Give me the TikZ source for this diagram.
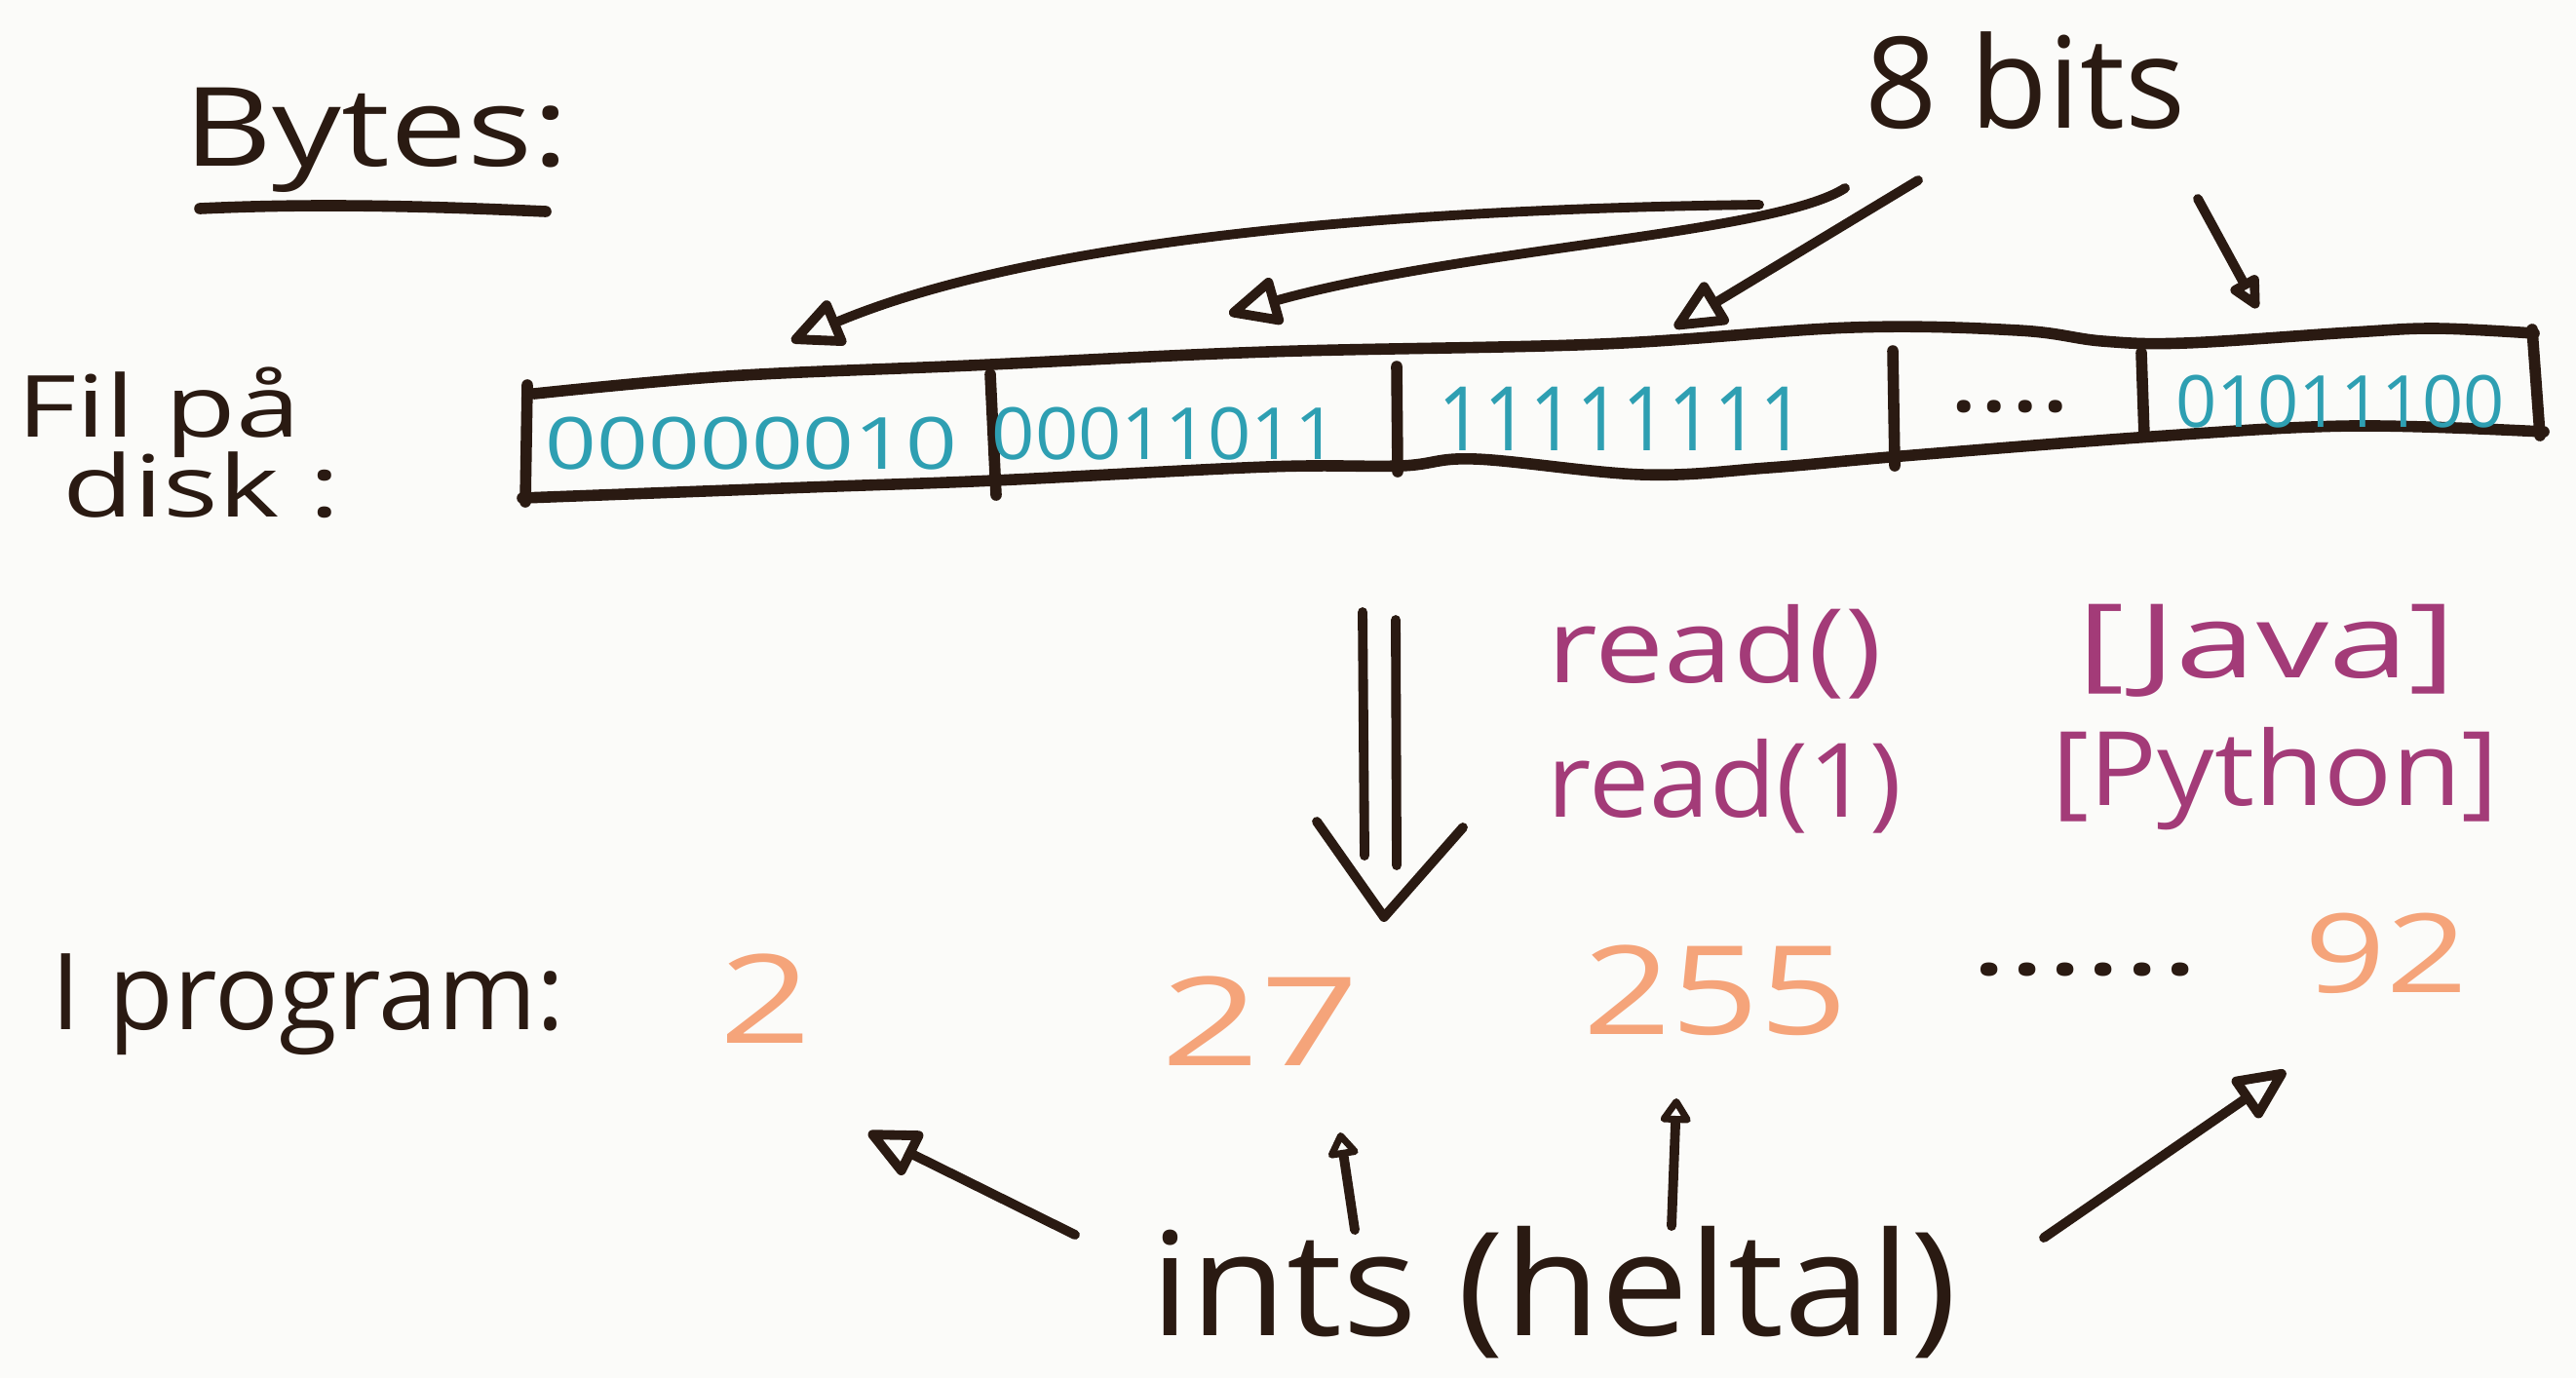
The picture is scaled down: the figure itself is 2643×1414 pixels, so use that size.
\documentclass[tikz,border=0pt]{standalone}
\usepackage{fontspec}
\setmainfont{Open Sans}
\usepackage{graphicx}
\usetikzlibrary{arrows.meta}

\definecolor{ink}{HTML}{2A1A12}
\definecolor{bitblue}{HTML}{2E9FB2}
\definecolor{callpurple}{HTML}{A33B78}
\definecolor{numorange}{HTML}{F5A47A}
\definecolor{paper}{HTML}{FBFBF9}

\newcommand{\fs}[1]{\fontsize{#1}{#1}\selectfont}

\tikzset{
  pen/.style={draw=ink, line width=3.3pt, line cap=round, line join=round},
  thinpen/.style={draw=ink, line width=2.8pt, line cap=round, line join=round},
  word/.style={text=ink, inner sep=0pt},
  bitstext/.style={text=bitblue, inner sep=0pt, font=\fs{21}},
  call/.style={text=callpurple, inner sep=0pt, font=\fs{30}},
  num/.style={text=numorange, inner sep=0pt, font=\fs{36}},
  bighead/.style={-{Triangle[open,round,length=17pt,width=15pt]}},
  smallhead/.style={-{Triangle[open,round,length=8pt,width=10pt]}},
}

\begin{document}
\begin{tikzpicture}[x=0.01cm, y=-0.01cm]
\fill[paper] (0,0) rectangle (2643,1414);
\useasboundingbox (0,0) rectangle (2643,1414);

% titles and labels
\node[word, anchor=base west, font=\fs{32}] (bytes) at (188,170) {\scalebox{1.25}[1]{Bytes:}};
\draw[pen] (205,214) .. controls (330,208) and (450,212) .. (560,217);
\node[word, anchor=base west, font=\fs{37}] (eightbits) at (1913,131) {8 bits};
\node[word, anchor=base west, font=\fs{25}] (filpa) at (17,448) {\scalebox{1.35}[1]{Fil på}};
\node[word, anchor=base west, font=\fs{25}] (disk) at (64,530) {\scalebox{1.35}[1]{disk :}};

% the file on disk: a strip of byte cells
\draw[pen] plot[smooth, tension=0.6] coordinates {(548,404) (746,386) (995,375) (1300,361) (1643,353) (1900,336) (2071,339) (2157,350) (2242,352) (2413,341) (2499,337) (2600,342)};
\draw[pen] plot[smooth, tension=0.6] coordinates {(536,511) (829,500) (1020,493) (1300,479) (1437,478) (1514,471) (1685,487) (1814,480) (1951,468) (2208,448) (2413,437) (2610,443)};
\draw[pen] (541,395) -- (539,515);
\draw[pen] (2598,338) -- (2606,447);
\draw[pen] (1016,384) -- (1022,508);
\draw[pen] (1433,376) -- (1434,484);
\draw[pen] (1942,360) -- (1944,478);
\draw[pen] (2197,362) -- (2200,448);

\node[bitstext] (bits1) at (771,455) {\scalebox{1.25}[1]{00000010}};
\node[bitstext] (bits2) at (1195,445) {\scalebox{1.05}[1]{00011011}};
\node[bitstext, font=\fs{26}] (bits3) at (1664,430) {\scalebox{0.9}[1]{11111111}};
\node[word, anchor=base, font=\fs{28}] (bits4) at (2062,422) {\scalebox{1.2}[1]{....}};
\node[bitstext] (bits5) at (2401,412) {\scalebox{1.0}[1]{01011100}};

% arrows from "8 bits" to the cells
\coordinate (a1s) at (1805,210); \coordinate (a1e) at (812,350);
\coordinate (a2s) at (1893,193); \coordinate (a2e) at (1261,322);
\coordinate (a3s) at (1968,185); \coordinate (a3e) at (1718,336);
\coordinate (a4s) at (2255,204); \coordinate (a4e) at (2316,316);
\draw[thinpen, bighead] (a1s) .. controls (1400,215) and (1050,250) .. (a1e);
\draw[thinpen, bighead] (a2s) .. controls (1820,240) and (1500,255) .. (a2e);
\draw[thinpen, bighead] (a3s) -- (a3e);
\draw[thinpen, -{Triangle[open,round,length=11pt,width=10pt]}] (a4s) -- (a4e);

% reading into the program
\coordinate (dl1) at (1398,628); \coordinate (dl2) at (1400,878);
\coordinate (dr1) at (1432,636); \coordinate (dr2) at (1433,888);
\coordinate (vl) at (1351,843); \coordinate (vtip) at (1420,941); \coordinate (vr) at (1501,849);
\draw[thinpen] (dl1) -- (dl2);
\draw[thinpen] (dr1) -- (dr2);
\draw[thinpen] (vl) -- (vtip) -- (vr);

\node[call, anchor=base west] (readj) at (1587,700) {\scalebox{1.2}[1]{read()}};
\node[call, anchor=base west] (java) at (2131,695) {\scalebox{1.4}[1]{[Java]}};
\node[call, anchor=base west] (readp) at (1587,838) {\scalebox{1.05}[1]{read(1)}};
\node[call, anchor=base west] (python) at (2105,826) {\scalebox{1.1}[1]{[Python]}};

% values in the program
\node[word, anchor=base west, font=\fs{31}] (prog) at (52,1056) {I program:};
\node[num] (n2) at (786,1025) {\scalebox{1.3}[1]{2}};
\node[num] (n27) at (1293,1048) {\scalebox{1.4}[1]{27}};
\node[num] (n255) at (1760,1016) {\scalebox{1.25}[1]{255}};
\node[word, anchor=base, font=\fs{30}] (dots) at (2139,1000) {\scalebox{1.4}[1]{......}};
\node[num, font=\fs{32}] (n92) at (2448,978) {\scalebox{1.3}[1]{92}};

\node[word, anchor=base west, font=\fs{42}] (ints) at (1180,1370) {\scalebox{1.09}[1]{ints (heltal)}};

% arrows from "ints" to the values
\coordinate (b1s) at (1103,1267); \coordinate (b1e) at (891,1162);
\coordinate (b2s) at (1390,1262); \coordinate (b2e) at (1375,1162);
\coordinate (b3s) at (1715,1258); \coordinate (b3e) at (1720,1127);
\coordinate (b4s) at (2097,1270); \coordinate (b4e) at (2345,1099);
\draw[thinpen, bighead] (b1s) -- (b1e);
\draw[thinpen, smallhead] (b2s) -- (b2e);
\draw[thinpen, smallhead] (b3s) -- (b3e);
\draw[thinpen, bighead] (b4s) -- (b4e);
\end{tikzpicture}
\end{document}
